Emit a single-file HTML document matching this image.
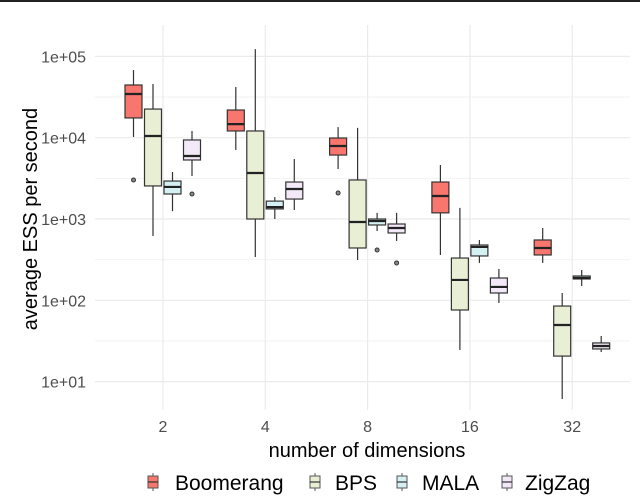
<!DOCTYPE html>
<html><head><meta charset="utf-8"><style>
body{margin:0;background:#fff}
svg{display:block;font-family:"Liberation Sans",sans-serif}
</style></head><body>
<svg id="chart" width="640" height="502">
<rect x="0" y="0" width="640" height="2" fill="#222"/>
<g id="grid"></g><g id="marks"></g><g id="axes"></g>
<text x="37" y="219" font-size="20" text-anchor="middle" transform="rotate(-90 37 219)" fill="#000">average ESS per second</text>
<text x="367" y="457" font-size="20" text-anchor="middle" fill="#000">number of dimensions</text>
<g id="legend"></g>
</svg>
<script>
const categories=["2","4","8","16","32"];
const series=["Boomerang","BPS","MALA","ZigZag"];
const colors=["#F8766D","#E8EFD4","#D4F0F2","#F2E8F8"];
// [lowerWhisker, q1, median, q3, upperWhisker] per series per category
const boomerang=[[10200,17500,34500,44500,68000],[7060,12100,14700,21900,42000],[4120,6120,7900,9910,13500],[361,1190,1920,2850,4610],[288,361,440,552,775]];
const bps=[[618,2550,10500,22500,45700],[341,1000,3680,12100,123000],[313,440,918,3020,13200],[24.5,76,178,331,1370],[6.1,20.6,49.7,85,123]];
const mala=[[1250,2030,2480,2930,3790],[1000,1330,1400,1660,1860],[711,844,944,1000,1190],[288,351,453,479,552],[150,183,188,199,236]];
const zigzag=[[3380,5320,5960,9380,12100],[1290,1760,2340,2850,5470],[536,673,775,868,1190],[92.7,123,146,188,243],[23.1,25.2,27.4,29.9,36.4]];
const allSeries=[boomerang,bps,mala,zigzag];
// outliers: [seriesIndex, categoryIndex, value]
const outlierSeries=[0,3,0,2,3];
const outlierCats=[0,0,2,2,2];
const outlierValues=[3020,2030,2090,416,288];
const yTickValues=[10,100,1000,10000,100000];
const yTickLabels=["1e+01","1e+02","1e+03","1e+04","1e+05"];

const NS="http://www.w3.org/2000/svg";
const plotL=95,plotR=630,plotT=25,plotB=410;
function y(v){return 219-81.3*(Math.log10(v)-3);}
function xc(i){return 163+102.3*i;}
const offs=[-29.5,-10,9.5,29];
const bw=17;
function mk(tag,attrs,parent){const e=document.createElementNS(NS,tag);for(const k in attrs)e.setAttribute(k,attrs[k]);parent.appendChild(e);return e;}
const grid=document.getElementById('grid'),marks=document.getElementById('marks'),axes=document.getElementById('axes'),legend=document.getElementById('legend');
for(let i=0;i<yTickValues.length-1;i++){
  const v=Math.sqrt(yTickValues[i]*yTickValues[i+1]);
  const l=mk('line',{x1:plotL,x2:plotR,y1:y(v),y2:y(v),stroke:'#f2f2f2','stroke-width':1},grid);
  
  
}
yTickValues.forEach((v,i)=>{
  const l=mk('line',{x1:plotL,x2:plotR,y1:y(v),y2:y(v),stroke:'#ebebeb','stroke-width':1.2},grid);
  
  
  const t=mk('text',{x:86,y:y(v)+6,'font-size':16,'text-anchor':'end',fill:'#4d4d4d'},axes);
  t.textContent=yTickLabels[i];
  
  
});
categories.forEach((c,i)=>{
  const l=mk('line',{x1:xc(i),x2:xc(i),y1:plotT,y2:plotB,stroke:'#ebebeb','stroke-width':1.2},grid);
  
  
  const t=mk('text',{x:xc(i),y:432,'font-size':16,'text-anchor':'middle',fill:'#4d4d4d'},axes);
  t.textContent=c;
  
  
});
allSeries.forEach((s,si)=>{
  s.forEach((d,ci)=>{
    const g=mk('g',{},marks);
    
    
    const cx=xc(ci)+offs[si];
    mk('line',{x1:cx,x2:cx,y1:y(d[4]),y2:y(d[0]),stroke:'#333','stroke-width':1.2},g);
    mk('rect',{x:cx-bw/2,y:y(d[3]),width:bw,height:y(d[1])-y(d[3]),fill:colors[si],stroke:'#333','stroke-width':1.2},g);
    mk('line',{x1:cx-bw/2,x2:cx+bw/2,y1:y(d[2]),y2:y(d[2]),stroke:'#222','stroke-width':2.2},g);
  });
});
outlierValues.forEach((v,i)=>{
  const cx=xc(outlierCats[i])+offs[outlierSeries[i]];
  const c=mk('circle',{cx:cx,cy:y(v),r:2,fill:'#888',stroke:'#333','stroke-width':1},marks);
  
  
});
const legX=[153,315,402,507],legTX=[175,335,422,525];
series.forEach((s,i)=>{
  const g=mk('g',{},legend);
  
  
  const x=legX[i];
  mk('line',{x1:x,x2:x,y1:473,y2:491,stroke:'#555','stroke-width':1},g);
  mk('rect',{x:x-5,y:476,width:10,height:12,fill:colors[i],stroke:'#555','stroke-width':1},g);
  mk('line',{x1:x-5,x2:x+5,y1:482,y2:482,stroke:'#333','stroke-width':1.2},g);
  const t=mk('text',{x:legTX[i],y:490,'font-size':21,fill:'#000'},g);
  t.textContent=s;
});
</script>
</body></html>
